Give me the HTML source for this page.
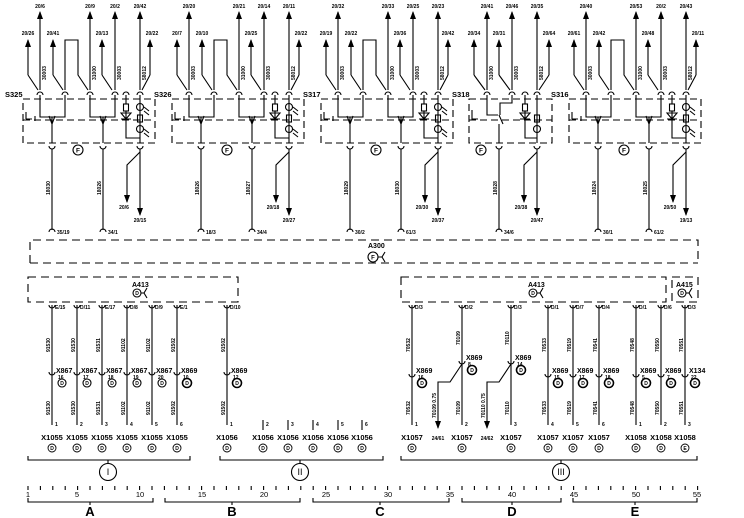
<!DOCTYPE html>
<html><head><meta charset="utf-8"><style>
html,body{margin:0;padding:0;background:#fff;width:744px;height:518px;overflow:hidden}
svg{display:block}
text{font-family:"Liberation Sans",sans-serif;font-weight:bold;fill:#000}
.s{font-size:5px}
.m{font-size:7.5px;font-weight:normal}
.c{text-anchor:middle}
</style></head><body>
<svg width="744" height="518" viewBox="0 0 744 518" xmlns="http://www.w3.org/2000/svg">
<defs>
<marker id="ar" markerWidth="8" markerHeight="6" refX="7" refY="3" orient="auto" markerUnits="userSpaceOnUse" viewBox="0 0 8 6">
<path d="M0,0 L8,3 L0,6 Z" fill="#000"/></marker>
<g id="mod" fill="none" stroke="#000" stroke-width="1.1">
<path d="M40,90 V12" marker-end="url(#ar)"/><path d="M90,90 V12" marker-end="url(#ar)"/><path d="M115,90 V12" marker-end="url(#ar)"/><path d="M140,90 V12" marker-end="url(#ar)"/>
<path d="M28,75 V40" marker-end="url(#ar)"/><path d="M53,75 V40" marker-end="url(#ar)"/><path d="M102,75 V40" marker-end="url(#ar)"/><path d="M150,75 V40" marker-end="url(#ar)"/>
<path d="M28,75 L38,90 M53,75 L63,90 M102,75 L112,90 M150,75 L142,90 M65,90 V40 H78 V75 L88,90"/>
<path d="M37,95 A3,3 0 0 1 43,95 M62,95 A3,3 0 0 1 68,95 M87,95 A3,3 0 0 1 93,95 M112,95 A3,3 0 0 1 118,95 M123,95 A3,3 0 0 1 129,95 M137,95 A3,3 0 0 1 143,95"/>
<path d="M40,95 V117 H65 V95 M52,117 V143 M49,116 L52,124 L55,116 M90,95 V117 H115 V95 M103,117 V143 M100,116 L103,124 L106,116"/>
<path d="M26,112 V119 M26,119 H32 M35,116 V121"/>
<path d="M126,95 V104 M126,111 V138 H140 M140,95 V143 M121,113 H131 L126,119 Z M121,119 H131"/>
<rect x="123.5" y="104" width="5" height="7"/><rect x="137.5" y="115" width="5" height="7"/>
<circle cx="140" cy="107" r="3.5"/><circle cx="140" cy="129" r="3.5"/>
<path d="M144,107 l5,4 M144,111 l5,4 M144,129 l5,4 M144,133 l5,4"/>
<rect x="23" y="99" width="132" height="44" stroke-dasharray="7,4"/>
<path d="M23,120 H155" stroke-dasharray="7,4"/>
<path d="M49,146 A3,3 0 0 0 55,146 M100,146 A3,3 0 0 0 106,146 M137,146 A3,3 0 0 0 143,146"/>
<path d="M52,149 V230 M103,149 V230 M49,232 A3,3 0 0 1 55,232 M100,232 A3,3 0 0 1 106,232"/>
<path d="M140,149 V215" marker-end="url(#ar)"/>
<path d="M140,152 L127,165 V202" marker-end="url(#ar)"/>
<circle cx="78" cy="150" r="5"/>
</g>
</defs>

<use href="#mod"/>
<use href="#mod" x="149"/>
<use href="#mod" x="298"/>
<use href="#mod" x="546"/>

<!-- module 4 custom -->
<g fill="none" stroke="#000" stroke-width="1.1">
<path d="M487,90 V12" marker-end="url(#ar)"/><path d="M512,90 V12" marker-end="url(#ar)"/><path d="M537,90 V12" marker-end="url(#ar)"/>
<path d="M474,75 V40" marker-end="url(#ar)"/><path d="M499,75 V40" marker-end="url(#ar)"/><path d="M549,75 V40" marker-end="url(#ar)"/>
<path d="M474,75 L485,90 M499,75 L510,90 M549,75 L539,90"/>
<path d="M484,95 A3,3 0 0 1 490,95 M509,95 A3,3 0 0 1 515,95 M522,95 A3,3 0 0 1 528,95 M534,95 A3,3 0 0 1 540,95"/>
<path d="M487,95 V115 H498 M512,95 V103 H500 V115 M499,115 L503,124 M499,124 V143 M472,110 V119 H478"/>
<path d="M525,95 V104 M525,111 V138 H537 M537,95 V143 M520,113 H530 L525,119 Z M520,119 H530"/>
<rect x="522.5" y="104" width="5" height="7"/><rect x="534.5" y="115" width="5" height="7"/>
<circle cx="537" cy="129" r="3.5"/>
<rect x="469" y="99" width="83" height="44" stroke-dasharray="7,4"/>
<path d="M469,120 H552" stroke-dasharray="7,4"/>
<path d="M496,146 A3,3 0 0 0 502,146 M534,146 A3,3 0 0 0 540,146"/>
<path d="M499,149 V230 M496,232 A3,3 0 0 1 502,232"/>
<path d="M537,149 V215" marker-end="url(#ar)"/>
<path d="M537,152 L524,165 V202" marker-end="url(#ar)"/>
<circle cx="481" cy="150" r="5"/>
</g>

<!-- top labels -->
<g class="s">
<text x="40" y="8" class="c">20/6</text><text x="90" y="8" class="c">20/9</text><text x="115" y="8" class="c">20/2</text><text x="140" y="8" class="c">20/42</text>
<text x="28" y="35" class="c">20/26</text><text x="53" y="35" class="c">20/41</text><text x="102" y="35" class="c">20/13</text><text x="152" y="35" class="c">20/22</text>
<text x="189" y="8" class="c">20/20</text><text x="239" y="8" class="c">20/21</text><text x="264" y="8" class="c">20/14</text><text x="289" y="8" class="c">20/11</text>
<text x="177" y="35" class="c">20/7</text><text x="202" y="35" class="c">20/10</text><text x="251" y="35" class="c">20/25</text><text x="301" y="35" class="c">20/22</text>
<text x="338" y="8" class="c">20/32</text><text x="388" y="8" class="c">20/33</text><text x="413" y="8" class="c">20/25</text><text x="438" y="8" class="c">20/23</text>
<text x="326" y="35" class="c">20/19</text><text x="351" y="35" class="c">20/22</text><text x="400" y="35" class="c">20/36</text><text x="448" y="35" class="c">20/42</text>
<text x="487" y="8" class="c">20/41</text><text x="512" y="8" class="c">20/46</text><text x="537" y="8" class="c">20/35</text>
<text x="474" y="35" class="c">20/34</text><text x="499" y="35" class="c">20/31</text><text x="549" y="35" class="c">20/64</text>
<text x="586" y="8" class="c">20/40</text><text x="636" y="8" class="c">20/53</text><text x="661" y="8" class="c">20/2</text><text x="686" y="8" class="c">20/43</text>
<text x="574" y="35" class="c">20/61</text><text x="599" y="35" class="c">20/42</text><text x="648" y="35" class="c">20/48</text><text x="698" y="35" class="c">20/11</text>
</g>
<g class="s">
<text transform="translate(46,80) rotate(-90)">30003</text><text transform="translate(96,80) rotate(-90)">31000</text><text transform="translate(121,80) rotate(-90)">30003</text><text transform="translate(146,80) rotate(-90)">58012</text>
<text transform="translate(195,80) rotate(-90)">30003</text><text transform="translate(245,80) rotate(-90)">31000</text><text transform="translate(270,80) rotate(-90)">30003</text><text transform="translate(295,80) rotate(-90)">58012</text>
<text transform="translate(344,80) rotate(-90)">30003</text><text transform="translate(394,80) rotate(-90)">31000</text><text transform="translate(419,80) rotate(-90)">30003</text><text transform="translate(444,80) rotate(-90)">58012</text>
<text transform="translate(493,80) rotate(-90)">31000</text><text transform="translate(518,80) rotate(-90)">30003</text><text transform="translate(543,80) rotate(-90)">58012</text>
<text transform="translate(592,80) rotate(-90)">30003</text><text transform="translate(642,80) rotate(-90)">31000</text><text transform="translate(667,80) rotate(-90)">30003</text><text transform="translate(692,80) rotate(-90)">58012</text>
<text transform="translate(50,195) rotate(-90)">18030</text><text transform="translate(101,195) rotate(-90)">18026</text>
<text transform="translate(199,195) rotate(-90)">18026</text><text transform="translate(250,195) rotate(-90)">18027</text>
<text transform="translate(348,195) rotate(-90)">18029</text><text transform="translate(399,195) rotate(-90)">18030</text>
<text transform="translate(497,195) rotate(-90)">18028</text>
<text transform="translate(596,195) rotate(-90)">18024</text><text transform="translate(647,195) rotate(-90)">18025</text>
</g>
<g class="m">
<text x="5" y="97">S325</text><text x="154" y="97">S326</text><text x="303" y="97">S317</text><text x="452" y="97">S318</text><text x="551" y="97">S316</text>
</g>
<g font-size="6.5">
<text x="78" y="152.5" class="c">F</text><text x="227" y="152.5" class="c">F</text><text x="376" y="152.5" class="c">F</text><text x="481" y="152.5" class="c">F</text><text x="624" y="152.5" class="c">F</text>
</g>
<g class="s">
<text x="57" y="234">35/19</text><text x="108" y="234">34/1</text><text x="206" y="234">18/3</text><text x="257" y="234">34/4</text>
<text x="355" y="234">30/2</text><text x="406" y="234">61/3</text><text x="504" y="234">34/6</text><text x="603" y="234">30/1</text><text x="654" y="234">61/2</text>
<text x="124" y="209" class="c">20/6</text><text x="140" y="222" class="c">20/15</text>
<text x="273" y="209" class="c">20/18</text><text x="289" y="222" class="c">20/27</text>
<text x="422" y="209" class="c">20/30</text><text x="438" y="222" class="c">20/37</text>
<text x="521" y="209" class="c">20/38</text><text x="537" y="222" class="c">20/47</text>
<text x="670" y="209" class="c">20/50</text><text x="686" y="222" class="c">19/13</text>
</g>

<!-- A300 -->
<g fill="none" stroke="#000" stroke-width="1.1">
<path d="M30,263 V240 H698 V263 M30,263 H698" stroke-dasharray="8,5"/>
<circle cx="373" cy="257" r="5"/><path d="M378,257 H382 M385,252 L382,257 L385,262"/>
<rect x="28" y="277" width="210" height="25" stroke-dasharray="8,5"/>
<rect x="401" y="277" width="265" height="25" stroke-dasharray="8,5"/>
<rect x="672" y="277" width="26" height="25" stroke-dasharray="8,5"/>
<circle cx="137" cy="293" r="4"/><path d="M141,293 H144 M147,288 L144,293 L147,298"/>
<circle cx="533" cy="293" r="4"/><path d="M537,293 H540 M543,288 L540,293 L543,298"/>
<circle cx="682" cy="293" r="4"/><path d="M686,293 H689 M692,288 L689,293 L692,298"/>
</g>
<text x="368" y="248" font-size="7">A300</text><text x="373" y="259.5" font-size="6" class="c">F</text>
<text x="132" y="287" font-size="7">A413</text><text x="528" y="287" font-size="7">A413</text><text x="676" y="287" font-size="7">A415</text>

<!-- lower columns -->
<g fill="none" stroke="#000" stroke-width="1.1">
<path d="M52,305 V425 M77,305 V425 M102,305 V425 M127,305 V425 M152,305 V425 M177,305 V425 M227,305 V425"/>
<path d="M49,305 A3,3 0 0 0 55,305 M74,305 A3,3 0 0 0 80,305 M99,305 A3,3 0 0 0 105,305 M124,305 A3,3 0 0 0 130,305 M149,305 A3,3 0 0 0 155,305 M174,305 A3,3 0 0 0 180,305 M224,305 A3,3 0 0 0 230,305"/>
<path d="M49,372 A3,3 0 0 0 55,372 M74,372 A3,3 0 0 0 80,372 M99,372 A3,3 0 0 0 105,372 M124,372 A3,3 0 0 0 130,372 M149,372 A3,3 0 0 0 155,372 M174,372 A3,3 0 0 0 180,372 M224,372 A3,3 0 0 0 230,372"/>
<circle cx="62" cy="383" r="4"/><circle cx="87" cy="383" r="4"/><circle cx="112" cy="383" r="4"/><circle cx="137" cy="383" r="4"/><circle cx="162" cy="383" r="4"/><circle cx="187" cy="383" r="4.5" stroke-width="1.6"/><circle cx="237" cy="383" r="4.5" stroke-width="1.6"/>
<path d="M263,420 V430 M288,420 V430 M313,420 V430 M338,420 V430 M362,420 V430"/>
<path d="M412,305 V425 M462,305 V425 M511,305 V425 M548,305 V425 M573,305 V425 M599,305 V425 M636,305 V425 M661,305 V425 M685,305 V425"/>
<path d="M409,305 A3,3 0 0 0 415,305 M459,305 A3,3 0 0 0 465,305 M508,305 A3,3 0 0 0 514,305 M545,305 A3,3 0 0 0 551,305 M570,305 A3,3 0 0 0 576,305 M596,305 A3,3 0 0 0 602,305 M633,305 A3,3 0 0 0 639,305 M658,305 A3,3 0 0 0 664,305 M682,305 A3,3 0 0 0 688,305"/>
<path d="M409,374 A3,3 0 0 0 415,374 M459,361 A3,3 0 0 0 465,361 M508,361 A3,3 0 0 0 514,361 M545,374 A3,3 0 0 0 551,374 M570,374 A3,3 0 0 0 576,374 M596,374 A3,3 0 0 0 602,374 M633,374 A3,3 0 0 0 639,374 M658,374 A3,3 0 0 0 664,374 M682,374 A3,3 0 0 0 688,374"/>
<path d="M462,364 L450,382 H438 V428" marker-end="url(#ar)"/>
<path d="M511,364 L499,382 H487 V428" marker-end="url(#ar)"/>
<circle cx="422" cy="383" r="4.5" stroke-width="1.6"/><circle cx="472" cy="370" r="4.5" stroke-width="1.6"/><circle cx="521" cy="370" r="4.5" stroke-width="1.6"/><circle cx="558" cy="383" r="4.5" stroke-width="1.6"/><circle cx="583" cy="383" r="4.5" stroke-width="1.6"/><circle cx="609" cy="383" r="4.5" stroke-width="1.6"/><circle cx="646" cy="383" r="4.5" stroke-width="1.6"/><circle cx="671" cy="383" r="4.5" stroke-width="1.6"/><circle cx="695" cy="383" r="4.5" stroke-width="1.6"/>
<g stroke-width="0.9">
<circle cx="52" cy="448" r="4"/><circle cx="77" cy="448" r="4"/><circle cx="102" cy="448" r="4"/><circle cx="127" cy="448" r="4"/><circle cx="152" cy="448" r="4"/><circle cx="177" cy="448" r="4"/>
<circle cx="227" cy="448" r="4"/><circle cx="263" cy="448" r="4"/><circle cx="288" cy="448" r="4"/><circle cx="313" cy="448" r="4"/><circle cx="338" cy="448" r="4"/><circle cx="362" cy="448" r="4"/>
<circle cx="412" cy="448" r="4"/><circle cx="462" cy="448" r="4"/><circle cx="511" cy="448" r="4"/><circle cx="548" cy="448" r="4"/><circle cx="573" cy="448" r="4"/><circle cx="599" cy="448" r="4"/><circle cx="636" cy="448" r="4"/><circle cx="661" cy="448" r="4"/><circle cx="685" cy="448" r="4"/>
</g>
<path d="M28,456 V460 H190 V456 M108,460 V463 M220,456 V460 H383 V456 M300,460 V463 M401,456 V460 H697 V456 M561,460 V463"/>
<circle cx="108" cy="472" r="8.5"/><circle cx="300" cy="472" r="8.5"/><circle cx="561" cy="472" r="8.5"/>
<path d="M28,486 V490 M40.4,486 V490 M52.8,486 V490 M65.2,486 V490 M77.6,486 V490 M90,486 V490 M102.4,486 V490 M114.8,486 V490 M127.2,486 V490 M139.6,486 V490 M152,486 V490 M164.4,486 V490 M176.8,486 V490 M189.2,486 V490 M201.6,486 V490 M214,486 V490 M226.4,486 V490 M238.8,486 V490 M251.2,486 V490 M263.6,486 V490 M276,486 V490 M288.4,486 V490 M300.8,486 V490 M313.2,486 V490 M325.6,486 V490 M338,486 V490 M350.4,486 V490 M362.8,486 V490 M375.2,486 V490 M387.6,486 V490 M400,486 V490 M412.4,486 V490 M424.8,486 V490 M437.2,486 V490 M449.6,486 V490 M462,486 V490 M474.4,486 V490 M486.8,486 V490 M499.2,486 V490 M511.6,486 V490 M524,486 V490 M536.4,486 V490 M548.8,486 V490 M561.2,486 V490 M573.6,486 V490 M586,486 V490 M598.4,486 V490 M610.8,486 V490 M623.2,486 V490 M635.6,486 V490 M648,486 V490 M660.4,486 V490 M672.8,486 V490 M685.2,486 V490 M697.6,486 V490"/>
<path d="M28,498 V502 H153 V498 M90,502 V505 M165,498 V502 H300 V498 M232,502 V505 M313,498 V502 H449 V498 M380,502 V505 M462,498 V502 H561 V498 M512,502 V505 M573,498 V502 H697 V498 M635,502 V505"/>
</g>
<g class="s">
<text x="55" y="309">E/15</text><text x="80" y="309">D/11</text><text x="105" y="309">E/17</text><text x="130" y="309">D/8</text><text x="155" y="309">D/9</text><text x="180" y="309">E/1</text><text x="230" y="309">D/10</text>
<text x="415" y="309">D/3</text><text x="465" y="309">D/2</text><text x="514" y="309">D/3</text><text x="551" y="309">D/1</text><text x="576" y="309">D/7</text><text x="602" y="309">D/4</text><text x="639" y="309">D/1</text><text x="664" y="309">D/6</text><text x="688" y="309">D/3</text>
<text transform="translate(50,352) rotate(-90)">91530</text><text transform="translate(75,352) rotate(-90)">91530</text><text transform="translate(100,352) rotate(-90)">91531</text><text transform="translate(125,352) rotate(-90)">91102</text><text transform="translate(150,352) rotate(-90)">91102</text><text transform="translate(175,352) rotate(-90)">91502</text><text transform="translate(225,352) rotate(-90)">91502</text>
<text transform="translate(50,415) rotate(-90)">91530</text><text transform="translate(75,415) rotate(-90)">91530</text><text transform="translate(100,415) rotate(-90)">91531</text><text transform="translate(125,415) rotate(-90)">91102</text><text transform="translate(150,415) rotate(-90)">91102</text><text transform="translate(175,415) rotate(-90)">91502</text><text transform="translate(225,415) rotate(-90)">91502</text>
<text transform="translate(410,352) rotate(-90)">70532</text><text transform="translate(460,345) rotate(-90)">70109</text><text transform="translate(509,345) rotate(-90)">70110</text><text transform="translate(546,352) rotate(-90)">70533</text><text transform="translate(571,352) rotate(-90)">70519</text><text transform="translate(597,352) rotate(-90)">70541</text><text transform="translate(634,352) rotate(-90)">70548</text><text transform="translate(659,352) rotate(-90)">70550</text><text transform="translate(683,352) rotate(-90)">70551</text>
<text transform="translate(410,415) rotate(-90)">70532</text><text transform="translate(460,415) rotate(-90)">70109</text><text transform="translate(509,415) rotate(-90)">70110</text><text transform="translate(546,415) rotate(-90)">70533</text><text transform="translate(571,415) rotate(-90)">70519</text><text transform="translate(597,415) rotate(-90)">70541</text><text transform="translate(634,415) rotate(-90)">70548</text><text transform="translate(659,415) rotate(-90)">70550</text><text transform="translate(683,415) rotate(-90)">70551</text>
<text transform="translate(436,418) rotate(-90)">70109  0.75</text><text transform="translate(485,418) rotate(-90)">70110  0.75</text>
<text x="438" y="440" class="c">24/61</text><text x="487" y="440" class="c">24/62</text>
<text x="58" y="379">16</text><text x="83" y="379">17</text><text x="108" y="379">18</text><text x="133" y="379">19</text><text x="158" y="379">20</text><text x="183" y="379">10</text><text x="233" y="379">12</text>
<text x="418" y="379">16</text><text x="468" y="366">8</text><text x="517" y="366">14</text><text x="554" y="379">15</text><text x="579" y="379">17</text><text x="605" y="379">18</text><text x="642" y="379">5</text><text x="667" y="379">7</text><text x="691" y="379">22</text>
<text x="55" y="426">1</text><text x="80" y="426">2</text><text x="105" y="426">3</text><text x="130" y="426">4</text><text x="155" y="426">5</text><text x="180" y="426">6</text>
<text x="230" y="426">1</text><text x="266" y="426">2</text><text x="291" y="426">3</text><text x="316" y="426">4</text><text x="341" y="426">5</text><text x="365" y="426">6</text>
<text x="415" y="426">1</text><text x="465" y="426">2</text><text x="514" y="426">3</text><text x="551" y="426">4</text><text x="576" y="426">5</text><text x="602" y="426">6</text><text x="639" y="426">1</text><text x="664" y="426">2</text><text x="688" y="426">3</text>
</g>
<g font-size="7">
<text x="56" y="373">X867</text><text x="81" y="373">X867</text><text x="106" y="373">X867</text><text x="131" y="373">X867</text><text x="156" y="373">X867</text><text x="181" y="373">X869</text><text x="231" y="373">X869</text>
<text x="416" y="373">X869</text><text x="466" y="360">X869</text><text x="515" y="360">X869</text><text x="552" y="373">X869</text><text x="577" y="373">X869</text><text x="603" y="373">X869</text><text x="640" y="373">X869</text><text x="665" y="373">X869</text><text x="689" y="373">X134</text>
</g>
<g class="m c">
<text x="52" y="440">X1055</text><text x="77" y="440">X1055</text><text x="102" y="440">X1055</text><text x="127" y="440">X1055</text><text x="152" y="440">X1055</text><text x="177" y="440">X1055</text>
<text x="227" y="440">X1056</text><text x="263" y="440">X1056</text><text x="288" y="440">X1056</text><text x="313" y="440">X1056</text><text x="338" y="440">X1056</text><text x="362" y="440">X1056</text>
<text x="412" y="440">X1057</text><text x="462" y="440">X1057</text><text x="511" y="440">X1057</text><text x="548" y="440">X1057</text><text x="573" y="440">X1057</text><text x="599" y="440">X1057</text><text x="636" y="440">X1058</text><text x="661" y="440">X1058</text><text x="685" y="440">X1058</text>
</g>
<g font-size="5" class="c">
<text x="52" y="450">D</text><text x="77" y="450">D</text><text x="102" y="450">D</text><text x="127" y="450">D</text><text x="152" y="450">D</text><text x="177" y="450">D</text>
<text x="227" y="450">D</text><text x="263" y="450">D</text><text x="288" y="450">D</text><text x="313" y="450">D</text><text x="338" y="450">D</text><text x="362" y="450">D</text>
<text x="412" y="450">D</text><text x="462" y="450">D</text><text x="511" y="450">D</text><text x="548" y="450">D</text><text x="573" y="450">D</text><text x="599" y="450">D</text><text x="636" y="450">D</text><text x="661" y="450">D</text><text x="685" y="450">E</text>
<text x="62" y="385">D</text><text x="87" y="385">D</text><text x="112" y="385">D</text><text x="137" y="385">D</text><text x="162" y="385">D</text><text x="187" y="385">D</text><text x="237" y="385">D</text>
<text x="422" y="385">D</text><text x="472" y="372">D</text><text x="521" y="372">D</text><text x="558" y="385">D</text><text x="583" y="385">D</text><text x="609" y="385">D</text><text x="646" y="385">D</text><text x="671" y="385">D</text><text x="695" y="385">D</text>
<text x="137" y="295">D</text><text x="533" y="295">D</text><text x="682" y="295">D</text>
</g>
<g font-size="9" class="c">
<text x="108" y="475" style="font-weight:normal">I</text><text x="300" y="475" style="font-weight:normal">II</text><text x="561" y="475" style="font-weight:normal">III</text>
</g>
<g font-size="7.5" class="c">
<text x="28" y="497" style="font-weight:normal">1</text><text x="77" y="497" style="font-weight:normal">5</text><text x="140" y="497" style="font-weight:normal">10</text><text x="202" y="497" style="font-weight:normal">15</text><text x="264" y="497" style="font-weight:normal">20</text><text x="326" y="497" style="font-weight:normal">25</text><text x="388" y="497" style="font-weight:normal">30</text><text x="450" y="497" style="font-weight:normal">35</text><text x="512" y="497" style="font-weight:normal">40</text><text x="574" y="497" style="font-weight:normal">45</text><text x="636" y="497" style="font-weight:normal">50</text><text x="697" y="497" style="font-weight:normal">55</text>
</g>
<g font-size="13" class="c">
<text x="90" y="516">A</text><text x="232" y="516">B</text><text x="380" y="516">C</text><text x="512" y="516">D</text><text x="635" y="516">E</text>
</g>
</svg>
</body></html>
